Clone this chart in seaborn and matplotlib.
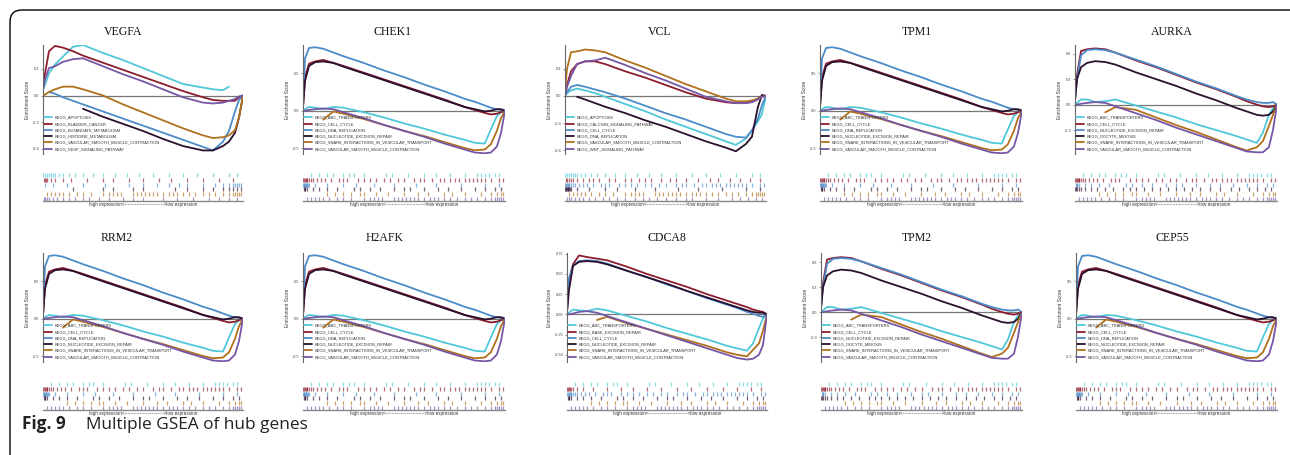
import numpy as np
import pandas as pd
import matplotlib
matplotlib.use("Agg")
import matplotlib.pyplot as plt
import seaborn as sns
from matplotlib.lines import Line2D
from matplotlib.patches import FancyBboxPatch

nan = np.nan

# running enrichment score sampled along the ranked gene list (0 = top, 1 = bottom)
RANK = [0, 0.01, 0.03, 0.06, 0.1, 0.15, 0.2, 0.3, 0.4, 0.5, 0.6, 0.7, 0.8, 0.85, 0.9, 0.93, 0.96, 0.98, 1.0]

VEGFA_ES = {
    'KEGG_APOPTOSIS': [.06, .12, .25, .35, .44, .55, .57, .48, .40, .31, .22, .13, .09, .07, .06, .10, nan, nan, nan],
    'KEGG_BLADDER_CANCER': [.08, .25, .50, .56, .54, .50, .45, .37, .29, .21, .13, .05, -.02, -.05, -.06, -.06, -.06, -.02, 0],
    'KEGG_BUTANOATE_METABOLISM': [nan, nan, .04, .02, -.02, -.06, -.10, -.18, -.26, -.34, -.42, -.50, -.58, -.62, -.52, -.40, -.18, -.05, 0],
    'KEGG_HISTIDINE_METABOLISM': [nan, nan, nan, nan, nan, nan, -.15, -.24, -.32, -.40, -.49, -.57, -.62, -.62, -.57, -.52, -.42, -.25, 0],
    'KEGG_VASCULAR_SMOOTH_MUSCLE_CONTRACTION': [0, .01, .04, .07, .10, .10, .07, 0, -.10, -.19, -.28, -.37, -.45, -.48, -.47, -.45, -.39, -.25, 0],
    'KEGG_VEGF_SIGNALING_PATHWAY': [.08, .18, .31, .33, .38, .41, .42, .33, .24, .16, .07, -.02, -.08, -.09, -.08, -.06, -.04, -.01, 0],
}

# shared by CHEK1, TPM1, RRM2, H2AFK, CEP55
PROLIF_ES = {
    'KEGG_ABC_TRANSPORTERS': [0, .02, .05, .04, .02, .05, .04, -.02, -.09, -.17, -.24, -.32, -.39, -.43, -.44, -.25, -.07, -.02, 0],
    'KEGG_CELL_CYCLE': [.05, .45, .63, .66, .68, .64, .60, .51, .42, .33, .24, .15, .05, .01, -.03, -.05, -.04, -.02, 0],
    'KEGG_DNA_REPLICATION': [.10, .70, .84, .85, .83, .78, .73, .64, .54, .45, .35, .26, .16, .12, .07, .04, .02, .01, 0],
    'KEGG_NUCLEOTIDE_EXCISION_REPAIR': [.05, .40, .60, .65, .66, .64, .59, .50, .41, .32, .23, .14, .05, .02, -.01, 0, .02, .02, 0],
    'KEGG_SNARE_INTERACTIONS_IN_VESICULAR_TRANSPORT': [nan, nan, nan, nan, -.12, -.01, -.04, -.11, -.19, -.27, -.34, -.42, -.50, -.53, -.52, -.45, -.27, -.10, 0],
    'KEGG_VASCULAR_SMOOTH_MUSCLE_CONTRACTION': [0, 0, .01, .02, .03, .02, -.02, -.10, -.19, -.27, -.35, -.44, -.52, -.56, -.57, -.56, -.48, -.30, 0],
}

VCL_ES = {
    'KEGG_APOPTOSIS': [0, .03, .06, .08, .06, .03, -.01, -.09, -.17, -.26, -.34, -.42, -.50, -.54, -.47, -.38, -.28, -.20, 0],
    'KEGG_CALCIUM_SIGNALING_PATHWAY': [0, .12, .27, .35, .38, .38, .35, .27, .20, .12, .04, -.03, -.07, -.08, -.08, -.06, -.03, 0, 0],
    'KEGG_CELL_CYCLE': [0, .04, .10, .12, .10, .07, .04, -.03, -.11, -.19, -.26, -.34, -.42, -.45, -.46, -.38, -.25, -.10, 0],
    'KEGG_DNA_REPLICATION': [nan, nan, nan, -.01, -.04, -.08, -.12, -.19, -.27, -.34, -.42, -.50, -.57, -.61, -.53, -.45, -.12, .01, 0],
    'KEGG_VASCULAR_SMOOTH_MUSCLE_CONTRACTION': [.05, .30, .48, .49, .51, .50, .48, .39, .31, .22, .13, .05, -.03, -.06, -.06, -.05, -.03, -.01, 0],
    'KEGG_WNT_SIGNALING_PATHWAY': [0, .10, .22, .35, .38, .39, .42, .34, .25, .17, .08, -.01, -.06, -.08, -.08, -.07, -.04, -.01, 0],
}

# shared by AURKA, TPM2
MEIOSIS_ES = {
    'KEGG_ABC_TRANSPORTERS': [0, .02, .06, .06, .03, .04, .06, -.01, -.08, -.15, -.23, -.30, -.37, -.41, -.45, -.33, -.12, -.04, 0],
    'KEGG_CELL_CYCLE': [.05, .35, .63, .65, .66, .65, .61, .52, .44, .35, .26, .18, .09, .04, 0, -.02, -.03, -.02, 0],
    'KEGG_NUCLEOTIDE_EXCISION_REPAIR': [.05, .30, .58, .64, .65, .64, .61, .53, .45, .36, .27, .19, .10, .06, .03, .02, .02, .03, 0],
    'KEGG_OOCYTE_MEIOSIS': [.05, .30, .44, .49, .51, .50, .47, .38, .30, .22, .13, .05, -.04, -.08, -.12, -.13, -.12, -.08, 0],
    'KEGG_SNARE_INTERACTIONS_IN_VESICULAR_TRANSPORT': [nan, nan, nan, nan, nan, -.09, -.03, -.06, -.15, -.24, -.32, -.41, -.50, -.54, -.50, -.43, -.25, -.12, 0],
    'KEGG_VASCULAR_SMOOTH_MUSCLE_CONTRACTION': [0, 0, .01, .02, .03, .02, -.02, -.10, -.18, -.27, -.35, -.43, -.51, -.55, -.56, -.56, -.50, -.30, 0],
}

CDCA8_ES = {
    'KEGG_ABC_TRANSPORTERS': [0, .02, .06, .05, .04, .07, .05, -.02, -.09, -.17, -.24, -.31, -.39, -.42, -.45, -.36, -.17, -.05, 0],
    'KEGG_BASE_EXCISION_REPAIR': [.07, .42, .62, .73, .71, .69, .67, .59, .50, .42, .34, .25, .17, .13, .09, .06, .04, .03, 0],
    'KEGG_CELL_CYCLE': [.05, .45, .60, .66, .67, .66, .63, .54, .46, .37, .29, .20, .12, .08, .03, .01, -.02, -.03, 0],
    'KEGG_NUCLEOTIDE_EXCISION_REPAIR': [.02, .30, .60, .65, .66, .65, .62, .54, .46, .38, .29, .21, .13, .09, .05, .03, .02, .02, 0],
    'KEGG_SNARE_INTERACTIONS_IN_VESICULAR_TRANSPORT': [nan, nan, nan, nan, nan, -.07, -.03, -.11, -.18, -.25, -.32, -.39, -.47, -.50, -.52, -.44, -.36, -.20, 0],
    'KEGG_VASCULAR_SMOOTH_MUSCLE_CONTRACTION': [0, 0, .01, .03, .04, .02, -.02, -.10, -.18, -.26, -.34, -.42, -.50, -.54, -.56, -.55, -.50, -.38, 0],
}

# gene-set hit positions in the ranked list (barcode rows)
HITS_APOPTOSIS = [0.0, 0.01, 0.02, 0.03, 0.04, 0.05, 0.06, 0.08, 0.1, 0.13, 0.16, 0.2, 0.25, 0.3, 0.36, 0.42, 0.48, 0.55, 0.63, 0.7, 0.77, 0.85, 0.93, 0.97]
HITS_BLADDER = [0.005, 0.01, 0.015, 0.02, 0.04, 0.06, 0.1, 0.14, 0.22, 0.3, 0.35, 0.43, 0.5, 0.58, 0.64, 0.72, 0.8, 0.88, 0.95]
HITS_BUTANOATE = [0.01, 0.05, 0.12, 0.2, 0.31, 0.43, 0.5, 0.57, 0.63, 0.68, 0.72, 0.8, 0.86, 0.9, 0.93, 0.95, 0.96, 0.97, 0.98, 0.99]
HITS_HISTIDINE = [0.15, 0.3, 0.35, 0.45, 0.5, 0.66, 0.72, 0.8, 0.85, 0.9, 0.93, 0.95, 0.97, 0.99]
HITS_VEGF = [0.005, 0.01, 0.02, 0.03, 0.05, 0.07, 0.1, 0.13, 0.16, 0.2, 0.23, 0.28, 0.33, 0.4, 0.45, 0.5, 0.6, 0.67, 0.75, 0.83, 0.88, 0.93, 0.97]
HITS_ABC = [0.04, 0.08, 0.12, 0.15, 0.2, 0.23, 0.25, 0.3, 0.41, 0.44, 0.52, 0.6, 0.66, 0.73, 0.8, 0.86, 0.88, 0.9, 0.92, 0.95, 0.97]
HITS_CELL_CYCLE = [0.002, 0.006, 0.01, 0.014, 0.018, 0.022, 0.03, 0.04, 0.05, 0.07, 0.09, 0.11, 0.14, 0.18, 0.2, 0.22, 0.27, 0.3, 0.33, 0.36, 0.4, 0.43, 0.47, 0.5, 0.55, 0.58, 0.6, 0.64, 0.68, 0.7, 0.73, 0.75, 0.77, 0.8, 0.82, 0.84, 0.86, 0.88, 0.9, 0.93, 0.97, 0.99]
HITS_DNA_REP = [0.001, 0.004, 0.007, 0.01, 0.013, 0.016, 0.02, 0.025, 0.03, 0.06, 0.12, 0.2, 0.26, 0.35, 0.45, 0.56, 0.66, 0.78, 0.9, 0.97]
HITS_NER = [0.003, 0.008, 0.012, 0.02, 0.05, 0.08, 0.12, 0.17, 0.25, 0.28, 0.33, 0.38, 0.45, 0.5, 0.53, 0.6, 0.67, 0.72, 0.78, 0.85, 0.9, 0.95, 0.98]
HITS_SNARE = [0.12, 0.16, 0.2, 0.24, 0.28, 0.3, 0.36, 0.42, 0.5, 0.57, 0.62, 0.7, 0.74, 0.8, 0.88, 0.93, 0.96, 0.98, 0.99]
HITS_VASCULAR = [0.02, 0.04, 0.06, 0.08, 0.1, 0.13, 0.17, 0.2, 0.24, 0.3, 0.33, 0.35, 0.37, 0.39, 0.45, 0.47, 0.49, 0.51, 0.53, 0.55, 0.57, 0.6, 0.63, 0.65, 0.67, 0.7, 0.73, 0.76, 0.8, 0.83, 0.86, 0.9, 0.93, 0.95, 0.96, 0.97, 0.98, 0.99]
HITS_CALCIUM = [0.005, 0.01, 0.02, 0.03, 0.04, 0.06, 0.09, 0.12, 0.14, 0.17, 0.22, 0.25, 0.3, 0.33, 0.37, 0.4, 0.43, 0.48, 0.52, 0.55, 0.6, 0.66, 0.72, 0.76, 0.82, 0.87, 0.92, 0.97]
HITS_WNT = [0.01, 0.02, 0.03, 0.05, 0.07, 0.09, 0.12, 0.15, 0.19, 0.22, 0.26, 0.3, 0.35, 0.39, 0.42, 0.46, 0.5, 0.55, 0.6, 0.63, 0.7, 0.76, 0.83, 0.87, 0.91, 0.95, 0.98]
HITS_OOCYTE = [0.002, 0.006, 0.01, 0.02, 0.03, 0.05, 0.08, 0.11, 0.15, 0.19, 0.24, 0.27, 0.3, 0.34, 0.38, 0.42, 0.46, 0.5, 0.54, 0.58, 0.62, 0.67, 0.72, 0.77, 0.81, 0.86, 0.9, 0.94, 0.97]
HITS_BER = [0.002, 0.005, 0.01, 0.015, 0.02, 0.03, 0.05, 0.08, 0.13, 0.2, 0.27, 0.33, 0.4, 0.47, 0.55, 0.62, 0.7, 0.78, 0.85, 0.92, 0.97]

HITS = {
    'KEGG_APOPTOSIS': HITS_APOPTOSIS,
    'KEGG_BLADDER_CANCER': HITS_BLADDER,
    'KEGG_BUTANOATE_METABOLISM': HITS_BUTANOATE,
    'KEGG_HISTIDINE_METABOLISM': HITS_HISTIDINE,
    'KEGG_VEGF_SIGNALING_PATHWAY': HITS_VEGF,
    'KEGG_ABC_TRANSPORTERS': HITS_ABC,
    'KEGG_CELL_CYCLE': HITS_CELL_CYCLE,
    'KEGG_DNA_REPLICATION': HITS_DNA_REP,
    'KEGG_NUCLEOTIDE_EXCISION_REPAIR': HITS_NER,
    'KEGG_SNARE_INTERACTIONS_IN_VESICULAR_TRANSPORT': HITS_SNARE,
    'KEGG_VASCULAR_SMOOTH_MUSCLE_CONTRACTION': HITS_VASCULAR,
    'KEGG_CALCIUM_SIGNALING_PATHWAY': HITS_CALCIUM,
    'KEGG_WNT_SIGNALING_PATHWAY': HITS_WNT,
    'KEGG_OOCYTE_MEIOSIS': HITS_OOCYTE,
    'KEGG_BASE_EXCISION_REPAIR': HITS_BER,
}

GENES = ['VEGFA', 'CHEK1', 'VCL', 'TPM1', 'AURKA', 'RRM2', 'H2AFK', 'CDCA8', 'TPM2', 'CEP55']
GENE_SET = {'VEGFA': VEGFA_ES, 'CHEK1': PROLIF_ES, 'VCL': VCL_ES, 'TPM1': PROLIF_ES, 'AURKA': MEIOSIS_ES,
            'RRM2': PROLIF_ES, 'H2AFK': PROLIF_ES, 'CDCA8': CDCA8_ES, 'TPM2': MEIOSIS_ES, 'CEP55': PROLIF_ES}

# y axis settings per panel: (ymin, ymax, ticks, label format)
T3 = [-0.6, -0.3, 0.0, 0.3]
T5 = [-0.5, 0.0, 0.5]
YAXIS = {
    'VEGFA': (-0.66, 0.57, T3, '%.1f'),
    'CHEK1': (-0.58, 0.88, T5, '%.1f'),
    'VCL': (-0.64, 0.56, T3, '%.1f'),
    'TPM1': (-0.58, 0.88, T5, '%.1f'),
    'AURKA': (-0.58, 0.70, [-0.3, 0.0, 0.3, 0.6], '%.1f'),
    'RRM2': (-0.58, 0.88, T5, '%.1f'),
    'H2AFK': (-0.58, 0.88, T5, '%.1f'),
    'CDCA8': (-0.59, 0.76, [-0.5, -0.25, 0.0, 0.25, 0.5, 0.75], '%.2f'),
    'TPM2': (-0.60, 0.71, [-0.3, 0.0, 0.3, 0.6], '%.1f'),
    'CEP55': (-0.58, 0.88, T5, '%.1f'),
}

COLORS = ['#4ec8d8', '#8c1d2e', '#4b8bc8', '#2b0f2d', '#b0701c', '#7656a6']

W, H = 1290, 455
sns.set_theme(style='white')
plt.rcParams['font.family'] = ['Liberation Sans', 'DejaVu Sans']
plt.rcParams['axes.unicode_minus'] = False

fig = plt.figure(figsize=(W / 100, H / 100), dpi=100)


def px_box(l, t, r, b):
    return [l / W, 1 - b / H, (r - l) / W, (b - t) / H]


# pixel layout: (axes left, axes right, title centre x)
COLS = [[(43, 243, 123), (303, 505, 392), (565, 766, 660), (820, 1022, 917), (1075, 1277, 1172)],
        [(43, 243, 117), (303, 505, 385), (567, 767, 667), (821, 1022, 917), (1076, 1277, 1172)]]
# (curve top, curve bottom, barcode top, barcode bottom, title y)
ROWS = [(45, 154, 173, 201, 32), (253, 362, 382, 410, 238)]

xlab = 'high expression<' + '-' * 26 + '>low expression'

overlay = fig.add_axes([0, 0, 1, 1], zorder=-1)
overlay.set_xlim(0, W)
overlay.set_ylim(H, 0)
overlay.axis('off')

for k, gene in enumerate(GENES):
    r = k // 5
    l, rt, tx = COLS[r][k % 5]
    t, b, bt, bb, ty = ROWS[r]
    es = GENE_SET[gene]
    names = list(es.keys())
    pal = dict(zip(names, COLORS))
    df = pd.DataFrame([(n, x, y) for n in names for x, y in zip(RANK, es[n])],
                      columns=['pathway', 'rank', 'es']).dropna()

    ax = fig.add_axes(px_box(l, t, rt, b))
    ax.set_facecolor('none')
    ax.axhline(0, color='#777777', lw=0.9, zorder=1)
    sns.lineplot(data=df, x='rank', y='es', hue='pathway', hue_order=names, palette=pal,
                 estimator=None, sort=False, legend=False, linewidth=1.3, ax=ax)
    ymin, ymax, ticks, fmt = YAXIS[gene]
    ax.set_xlim(0, 1)
    ax.set_ylim(ymin, ymax)
    ax.set_xticks([])
    ax.set_xlabel('')
    ax.set_yticks(ticks)
    ax.set_yticklabels([fmt % v for v in ticks])
    ax.tick_params(axis='y', left=True, labelsize=2.8, length=1.5, width=0.5, pad=1,
                   colors='#666666', labelcolor='#444444')
    ax.set_ylabel('Enrichment Score', fontsize=3.4, labelpad=2, color='#333333')
    for s in ['top', 'right', 'bottom']:
        ax.spines[s].set_visible(False)
    ax.spines['left'].set_color('#666666')
    ax.spines['left'].set_linewidth(0.8)
    handles = [Line2D([0], [0], color=c, lw=1.3) for c in COLORS]
    ax.legend(handles, names, loc='lower left', bbox_to_anchor=(0.0, 0.02), frameon=False,
              fontsize=2.9, handlelength=2.0, handletextpad=0.8, labelspacing=0.56,
              borderaxespad=0, borderpad=0.2, labelcolor='#333333')

    bx = fig.add_axes(px_box(l, bt, rt, bb))
    bx.set_facecolor('none')
    for i, n in enumerate(names):
        bx.vlines(HITS[n], 5 - i + 0.05, 6 - i - 0.05, color=COLORS[i], lw=0.9, alpha=0.65)
    bx.set_xlim(0, 1)
    bx.set_ylim(0, 6)
    bx.set_xticks([])
    bx.set_yticks([])
    for s in ['top', 'right', 'left']:
        bx.spines[s].set_visible(False)
    bx.spines['bottom'].set_color('#888888')
    bx.spines['bottom'].set_linewidth(1.0)
    bx.set_xlabel(xlab, fontsize=3.3, labelpad=1, color='#333333')

    overlay.text(tx, ty, gene, ha='center', va='center', fontsize=8.5,
                 family=['Liberation Serif', 'DejaVu Serif'], color='#111111')

overlay.add_patch(FancyBboxPatch((10, 10), 1320, 480, boxstyle='round,pad=0,rounding_size=12',
                                 fill=False, ec='black', lw=1.0))
overlay.text(22, 429, 'Fig. 9', fontsize=12.4, weight='bold', family=['Open Sans', 'DejaVu Sans'],
             va='baseline', color='#222222')
overlay.text(86, 429, 'Multiple GSEA of hub genes', fontsize=12.4, family=['Open Sans', 'DejaVu Sans'],
             va='baseline', color='#222222')

fig.savefig('out.png', dpi=100)
